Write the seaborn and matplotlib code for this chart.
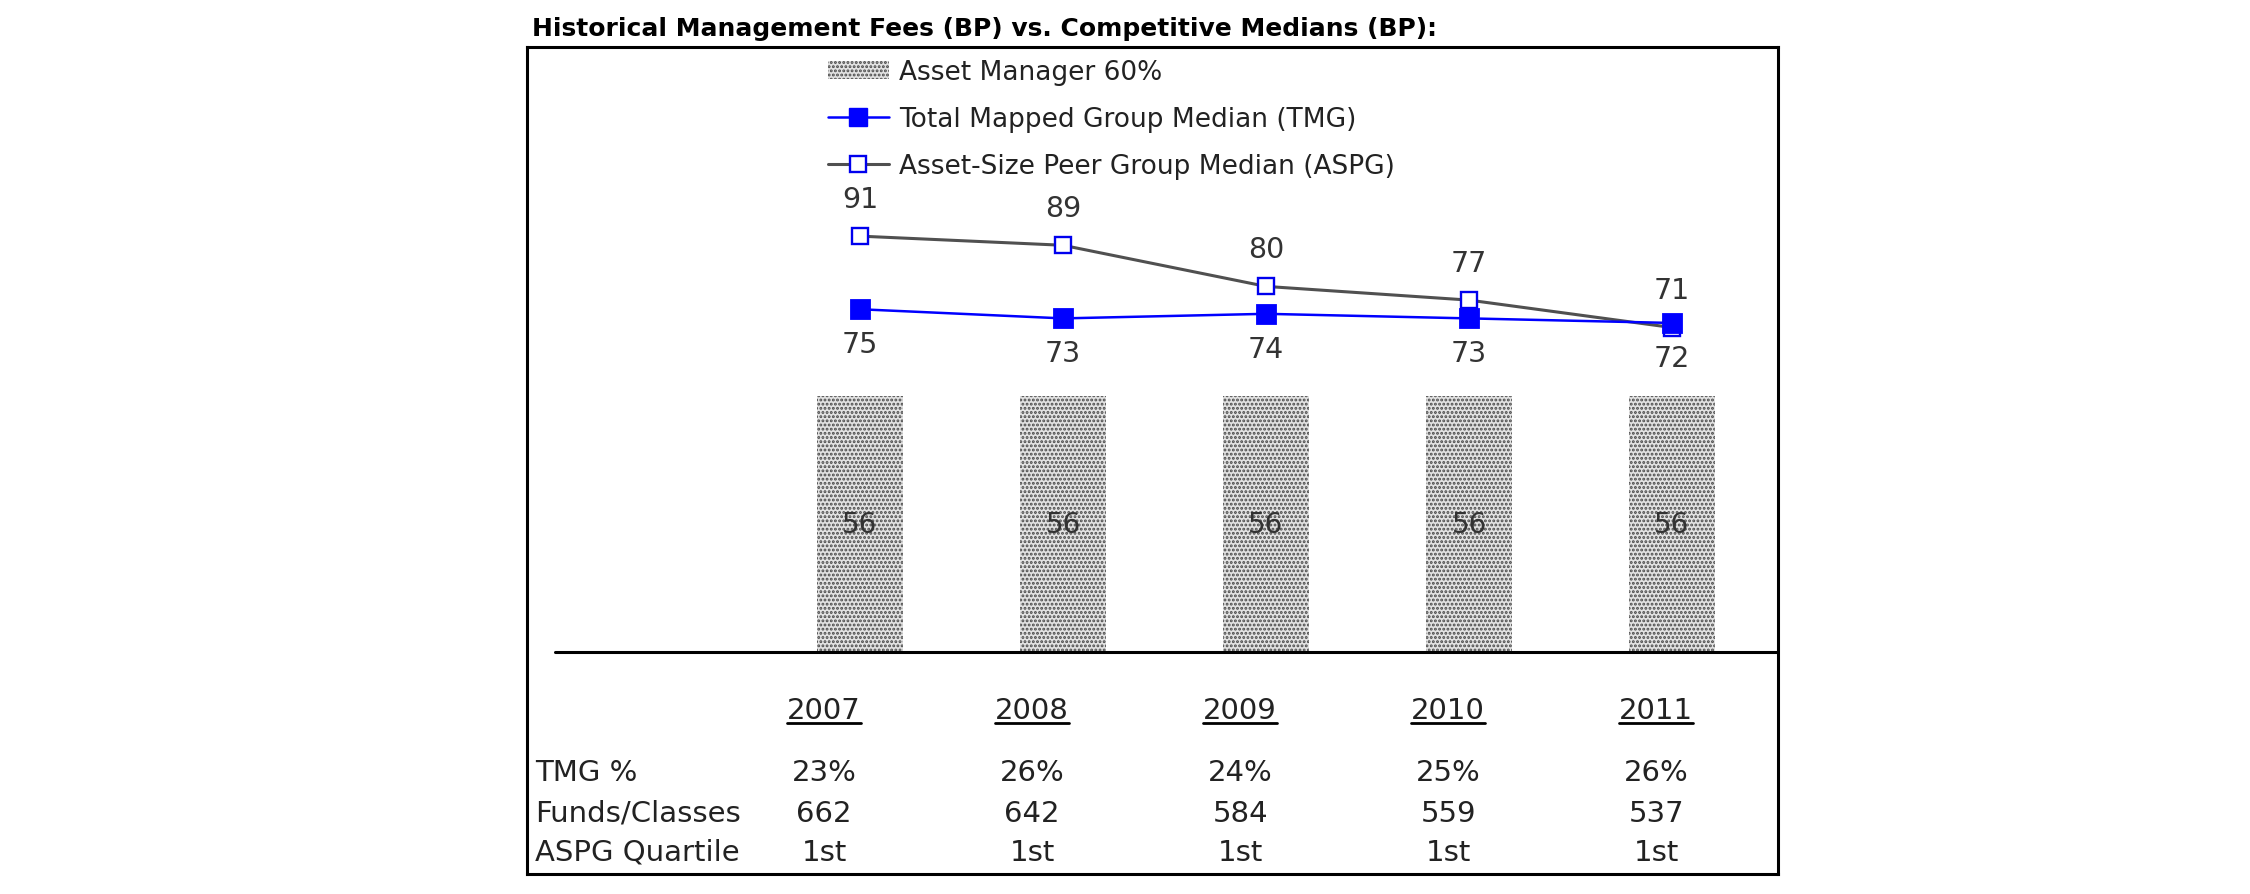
import numpy as np
import pandas as pd
import matplotlib
matplotlib.use("Agg")
import matplotlib.pyplot as plt
from matplotlib.patches import Patch
from matplotlib.lines import Line2D
import matplotlib.transforms as mtransforms
import seaborn as sns

# ---------------- data ----------------
years = ["2007", "2008", "2009", "2010", "2011"]
asset_manager = [56, 56, 56, 56, 56]
tmg_median = [75, 73, 74, 73, 72]
aspg_median = [91, 89, 80, 77, 71]
tmg_pct = ["23%", "26%", "24%", "25%", "26%"]
funds_classes = ["662", "642", "584", "559", "537"]
aspg_quartile = ["1st", "1st", "1st", "1st", "1st"]
row_labels = ["TMG %", "Funds/Classes", "ASPG Quartile"]
title = "Historical Management Fees (BP) vs. Competitive Medians (BP):"
legend_labels = ["Asset Manager 60%", "Total Mapped Group Median (TMG)",
                 "Asset-Size Peer Group Median (ASPG)"]

# ---------------- style ----------------
sns.set_theme(style="white")
plt.rcParams["font.family"] = ["DejaVu Sans"]
plt.rcParams["hatch.linewidth"] = 1.4

TXT = "#222222"
BLUE = "#0000ff"
GRAY_LINE = "#505050"
BAR_FACE = "#e2e2e2"
HATCH_COL = "#4a4a4a"

W, H = 2250, 895
fig = plt.figure(figsize=(W / 100, H / 100), dpi=100)
fig.patch.set_facecolor("white")

box_l, box_r, box_t, box_b = 527, 1778, 48, 875
ax = fig.add_axes([box_l / W, (H - box_b) / H, (box_r - box_l) / W, (box_b - box_t) / H])

df = pd.DataFrame({"year": years, "am": asset_manager,
                   "tmg": tmg_median, "aspg": aspg_median})

# bars
sns.barplot(data=df, x="year", y="am", order=years, color=BAR_FACE,
            saturation=1, width=0.424, errorbar=None, ax=ax)
for p in ax.patches:
    p.set_hatch("....")
    p.set_edgecolor(HATCH_COL)
    p.set_linewidth(0)
ax.bar_label(ax.containers[0], labels=[str(v) for v in asset_manager],
             label_type="center", fontsize=20, color="#333333")

# ASPG line
sns.pointplot(data=df, x="year", y="aspg", order=years, color=GRAY_LINE,
              markers="s", linestyles="-", errorbar=None, ax=ax)
la = ax.lines[-1]
la.set_linewidth(2.2)
la.set_markersize(11)
la.set_markerfacecolor("white")
la.set_markeredgecolor("#0000ee")
la.set_markeredgewidth(1.7)
la.set_zorder(3)

# TMG line
sns.pointplot(data=df, x="year", y="tmg", order=years, color=BLUE,
              markers="s", linestyles="-", errorbar=None, ax=ax)
lt = ax.lines[-1]
lt.set_linewidth(1.8)
lt.set_markersize(13)
lt.set_markerfacecolor(BLUE)
lt.set_markeredgecolor(BLUE)
lt.set_zorder(4)

# value labels
for i, v in enumerate(aspg_median):
    ax.annotate(str(v), (i, v), xytext=(0, 27), textcoords="offset points",
                ha="center", va="center", fontsize=20.5, color="#333333")
for i, v in enumerate(tmg_median):
    ax.annotate(str(v), (i, v), xytext=(0, -25), textcoords="offset points",
                ha="center", va="center", fontsize=20.5, color="#333333")

# scales
px_per_unit = 4.57
zero_px = 653
ax.set_ylim(-(box_b - zero_px) / px_per_unit, (zero_px - box_t) / px_per_unit)
cat_px = 203
x0_px = 860
ax.set_xlim(-(x0_px - box_l) / cat_px, 4 + (box_r - (x0_px + 4 * cat_px)) / cat_px)

# baseline
ax.axhline(0, xmin=(555 - box_l) / (box_r - box_l), xmax=1, color="black", lw=2.2, zorder=5)

ax.set_xticks([])
ax.set_yticks([])
ax.set_xlabel("")
ax.set_ylabel("")
for s in ax.spines.values():
    s.set_visible(True)
    s.set_color("black")
    s.set_linewidth(2.2)

# table under the chart
def yfrac(px):
    return (box_b - px) / (box_b - box_t)

trans = mtransforms.blended_transform_factory(ax.transData, ax.transAxes)
col_x = [i * 1.025 - 0.177 for i in range(len(years))]
year_texts = []
for cx, yr in zip(col_x, years):
    t = ax.text(cx, yfrac(719), yr, transform=trans, ha="center", va="baseline",
                fontsize=21, color=TXT)
    year_texts.append(t)

rows = [tmg_pct, funds_classes, aspg_quartile]
row_y = [773, 814, 853]
for lab, vals, py in zip(row_labels, rows, row_y):
    ax.text((535 - box_l) / (box_r - box_l), yfrac(py), lab, transform=ax.transAxes,
            ha="left", va="center", fontsize=21, color=TXT)
    for cx, v in zip(col_x, vals):
        ax.text(cx, yfrac(py), v, transform=trans, ha="center", va="center",
                fontsize=21, color=TXT)

# legend
handles = [
    Patch(facecolor=BAR_FACE, edgecolor=HATCH_COL, hatch="....", linewidth=0),
    Line2D([], [], color=BLUE, lw=1.8, marker="s", ms=13, mfc=BLUE, mec=BLUE),
    Line2D([], [], color=GRAY_LINE, lw=2.2, marker="s", ms=11, mfc="white",
           mec="#0000ee", mew=1.7),
]
ax.legend(handles, legend_labels, loc="upper left",
          bbox_to_anchor=(828 / W, 1 - 60 / H), bbox_transform=fig.transFigure,
          frameon=False, fontsize=19, handlelength=2.3, handletextpad=0.4,
          labelspacing=0.8, borderpad=0, borderaxespad=0, labelcolor=TXT)

# title
fig.text(532 / W, 1 - 29 / H, title, fontweight="bold", fontsize=18,
         ha="left", va="center", color="black")

# underline the years
fig.canvas.draw()
renderer = fig.canvas.get_renderer()
for t in year_texts:
    bb = t.get_window_extent(renderer)
    yl = H - 724
    fig.add_artist(Line2D([bb.x0 / W, bb.x1 / W], [yl / H, yl / H],
                          transform=fig.transFigure, color="black", lw=2.0))

fig.savefig("out.png", dpi=100, facecolor="white")
